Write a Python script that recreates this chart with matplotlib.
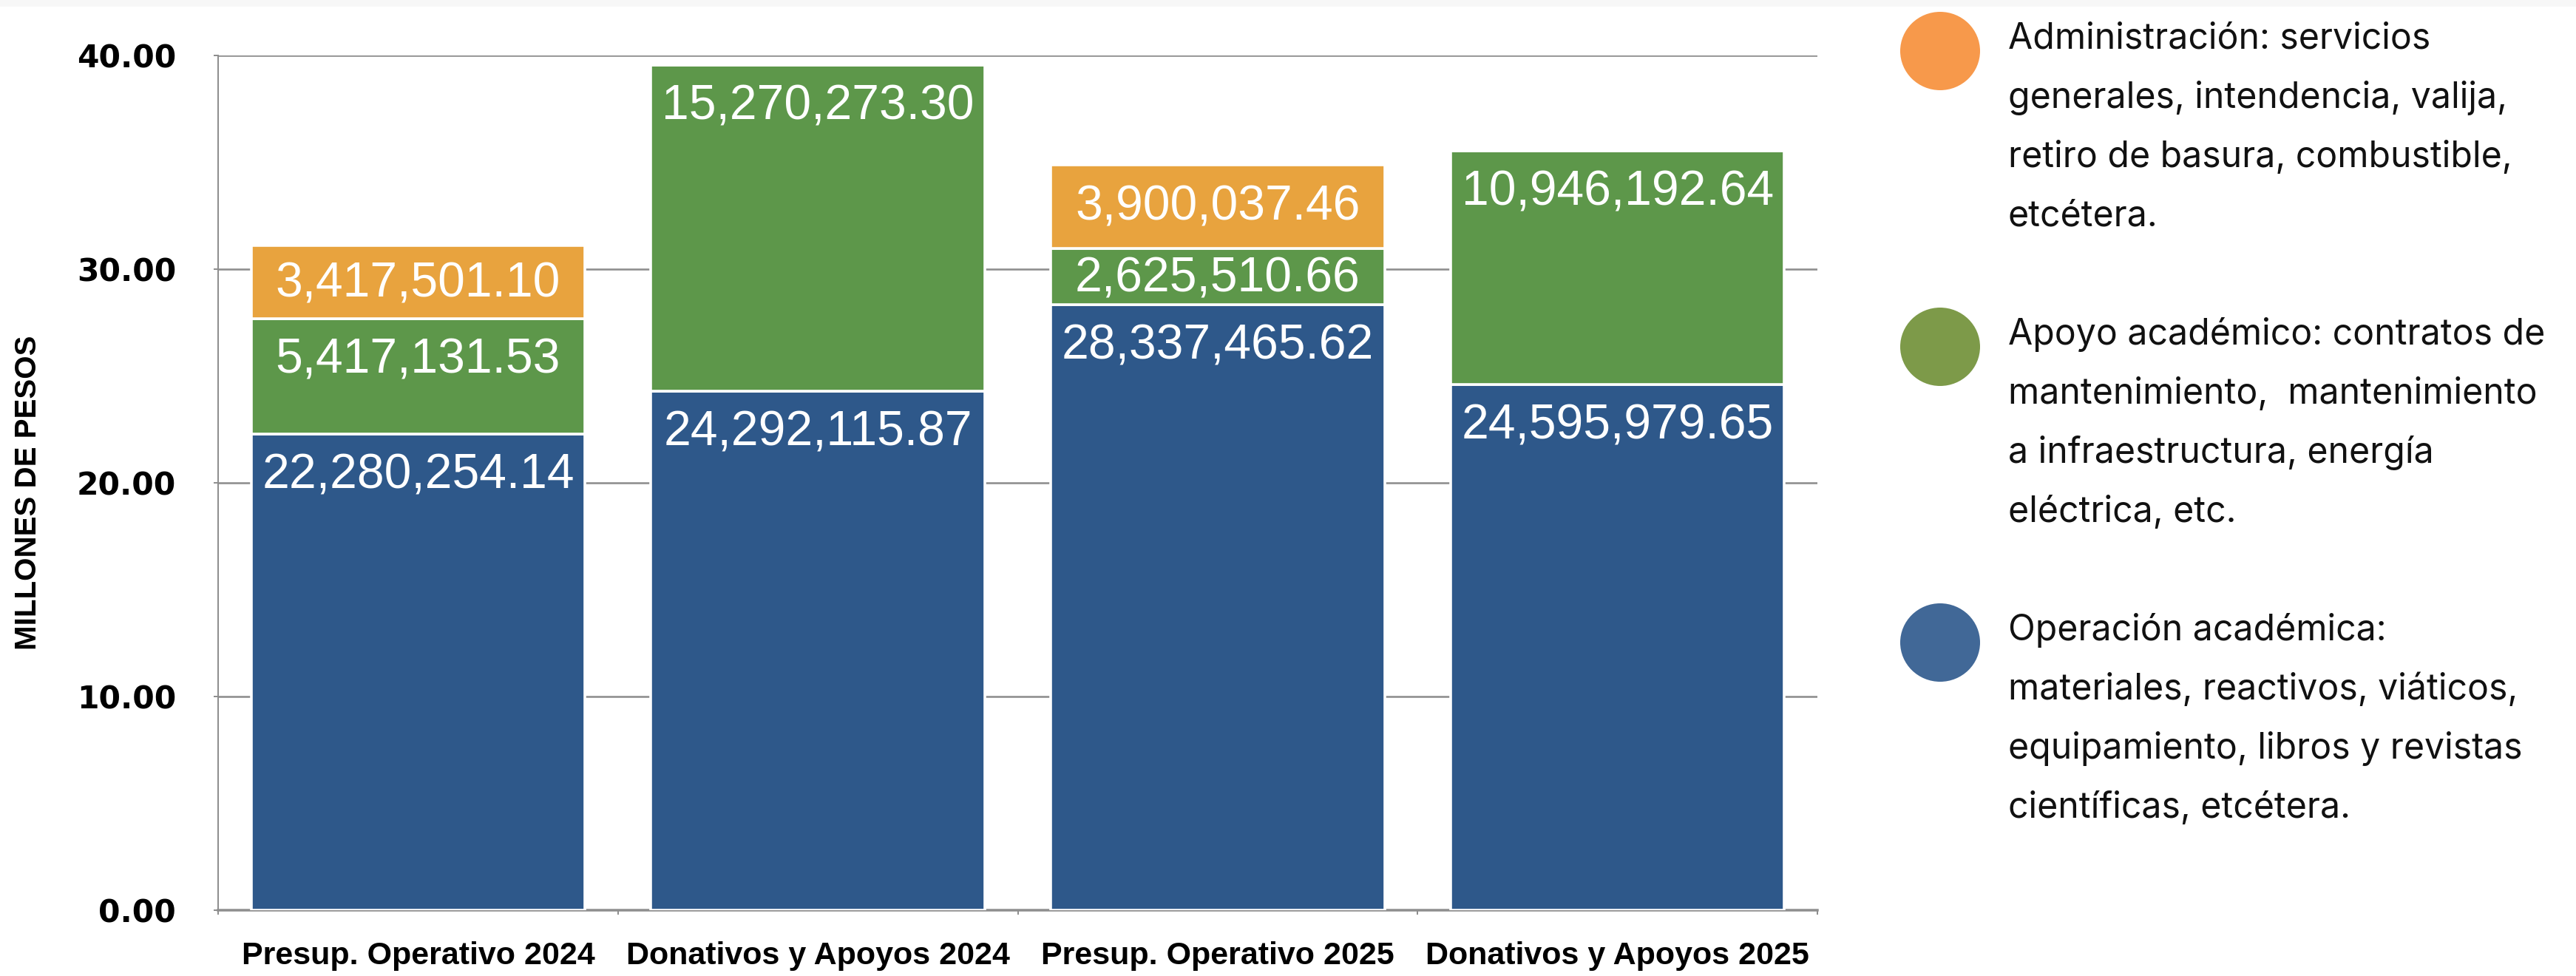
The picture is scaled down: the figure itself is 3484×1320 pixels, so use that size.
"""Stacked budget bars by funding source, with a text legend on the right."""

import matplotlib

matplotlib.use("Agg")
import matplotlib.pyplot as plt
import numpy as np
from matplotlib import font_manager
from matplotlib.patches import Ellipse, Rectangle

# values in pesos
categories = [
    "Presup. Operativo 2024",
    "Donativos y Apoyos 2024",
    "Presup. Operativo 2025",
    "Donativos y Apoyos 2025",
]
operacion = [22280254.14, 24292115.87, 28337465.62, 24595979.65]
apoyo = [5417131.53, 15270273.30, 2625510.66, 10946192.64]
administracion = [3417501.10, 0.0, 3900037.46, 0.0]

y_ticks = [0, 10, 20, 30, 40]
y_label = "MILLONES DE PESOS"

legend_items = [
    ("#F7994B", [
        "Administración: servicios",
        "generales, intendencia, valija,",
        "retiro de basura, combustible,",
        "etcétera.",
    ]),
    ("#7D9A49", [
        "Apoyo académico: contratos de",
        "mantenimiento,  mantenimiento",
        "a infraestructura, energía",
        "eléctrica, etc.",
    ]),
    ("#416897", [
        "Operación académica:",
        "materiales, reactivos, viáticos,",
        "equipamiento, libros y revistas",
        "científicas, etcétera.",
    ]),
]

BLUE = "#2E588A"
GREEN = "#5D974A"
ORANGE = "#E8A33E"
GRID = "#8E8E8E"

W, H, DPI = 3484, 1320, 100
PT = 72 / DPI  # points per pixel

installed = {f.name for f in font_manager.fontManager.ttflist}
legend_font = "Inter" if "Inter" in installed else "DejaVu Sans"

fig = plt.figure(figsize=(W / DPI, H / DPI), dpi=DPI)
fig.patch.set_facecolor("white")
fig.patches.append(Rectangle((0, 1 - 9 / H), 1, 9 / H, transform=fig.transFigure,
                             facecolor="#F7F7F7", edgecolor="none", zorder=0))

# axes box in pixels: x 295..2458, y 75 (top, 40) .. 1231 (bottom, 0)
ax_l, ax_r, ax_t, ax_b = 295, 2458, 75, 1231
ax = fig.add_axes([ax_l / W, (H - ax_b) / H, (ax_r - ax_l) / W, (ax_b - ax_t) / H])
px_per_unit = (ax_b - ax_t) / 40.0

x = np.arange(len(categories))
ops = np.array(operacion) / 1e6
apo = np.array(apoyo) / 1e6
adm = np.array(administracion) / 1e6

bw = 0.835
edge = dict(edgecolor="white", linewidth=2.6, zorder=3)
ax.bar(x, ops, bw, color=BLUE, **edge)
ax.bar(x, apo, bw, bottom=ops, color=GREEN, **edge)
ax.bar(x, adm, bw, bottom=ops + apo, color=ORANGE, **edge)

# value labels, placed near the top of each segment
label_size = 47.5
cap_px = 0.716 * label_size / PT
for raw, vals, base in [(operacion, ops, np.zeros_like(ops)),
                        (apoyo, apo, ops),
                        (administracion, adm, ops + apo)]:
    for i, (r, v, b) in enumerate(zip(raw, vals, base)):
        if r <= 0:
            continue
        h_px = v * px_per_unit
        off = min(50, h_px / 2 - 3) + cap_px / 2
        ax.annotate(f"{r:,.2f}", xy=(x[i], b + v), xytext=(0, -off * PT),
                    textcoords="offset points", ha="center", va="baseline",
                    color="white", fontsize=label_size, family="Liberation Sans",
                    zorder=5)

ax.set_xlim(-0.5, len(categories) - 0.5)
ax.set_ylim(0, 40)

ax.set_yticks(y_ticks)
ax.set_yticklabels([f"{t:.2f}" for t in y_ticks], family="DejaVu Sans",
                   fontweight="bold", fontsize=30.5)
ax.tick_params(axis="y", length=6 * PT, width=2 * PT, color=GRID, pad=51 * PT)
ax.yaxis.grid(True, color=GRID, linewidth=2.6 * PT, zorder=0)
ax.set_axisbelow(True)

ax.set_xticks(np.arange(len(categories) + 1) - 0.5)
ax.set_xticklabels([])
ax.set_xticks(x, minor=True)
ax.set_xticklabels(categories, minor=True, family="Liberation Sans",
                   fontweight="bold", fontsize=31)
ax.tick_params(axis="x", which="major", length=6 * PT, width=2 * PT, color=GRID)
ax.tick_params(axis="x", which="minor", length=0, pad=42 * PT)

for side in ("top", "right"):
    ax.spines[side].set_visible(False)
ax.spines["left"].set_color(GRID)
ax.spines["left"].set_linewidth(2 * PT)
ax.spines["bottom"].set_color(GRID)
ax.spines["bottom"].set_linewidth(3.5 * PT)

fig.text(38 / W, 1 - 666 / H, y_label, rotation=90, ha="center", va="center",
         family="Liberation Sans", fontweight="bold", fontsize=29)

# legend: a coloured dot followed by wrapped description lines
dot_x, text_x = 2624, 2716
for k, (color, lines) in enumerate(legend_items):
    top = 66 + k * 400
    fig.patches.append(Ellipse((dot_x / W, 1 - (top + 3) / H), 108 / W, 106 / H,
                               transform=fig.transFigure, facecolor=color,
                               edgecolor="none"))
    for j, line in enumerate(lines):
        fig.text(text_x / W, 1 - (top + j * 80) / H, line, ha="left", va="baseline",
                 family=legend_font, fontsize=34.7, color="#111111")

fig.savefig("out.png", dpi=DPI, facecolor="white")
